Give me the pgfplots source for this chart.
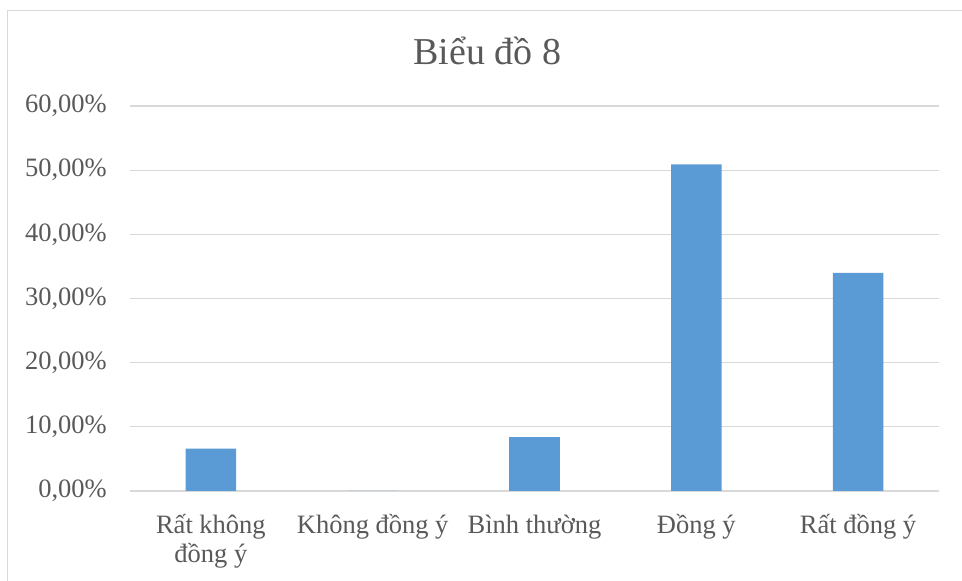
\documentclass[border=0pt]{standalone}
\usepackage{pgfplots}
\pgfplotsset{compat=1.18}
\usepackage{fontspec}
\setmainfont{Liberation Serif}
\definecolor{barblue}{HTML}{5B9BD5}
\definecolor{gridgray}{HTML}{D9D9D9}
\definecolor{txtgray}{HTML}{595959}
% two-line label whose baseline is its first line
\def\firstlabel{\vtop{\halign{\hfil##\hfil\cr Rất không\cr đồng ý\cr}}}
\begin{document}
\begin{tikzpicture}[x=1pt,y=1pt]
\useasboundingbox (0,0) rectangle (962,581);
% chart frame
\draw[gridgray, line width=1.3pt] (7.5,-10) -- (7.5,570.5) -- (975,570.5);
\node[txtgray, font=\fontsize{38}{44}\selectfont, anchor=base, inner sep=0pt]
  at (487.5,516.7) {Biểu đồ 8};
\begin{axis}[
  at={(130pt,90pt)}, anchor=south west,
  scale only axis, width=809pt, height=385pt,
  ybar, bar width=50.6pt,
  xmin=-0.5, xmax=4.5, ymin=0, ymax=60,
  xtick=data,
  xticklabels={\firstlabel,Không đồng ý,Bình thường,Đồng ý,Rất đồng ý},
  ytick={0,10,20,30,40,50,60},
  yticklabel={\pgfmathprintnumber[fixed,fixed zerofill,precision=2,use comma]{\tick}\%},
  /pgf/number format/assume math mode=true,
  axis line style={draw=none},
  major tick length=0pt,
  ymajorgrids, grid style={gridgray, line width=1.3pt},
  ticklabel style={txtgray, font=\fontsize{26.5}{30}\selectfont, inner sep=0pt},
  xticklabel style={anchor=base, yshift=-42pt},
  yticklabel style={anchor=east, xshift=-23pt},
  clip=false,
]
\addplot[fill=barblue, draw=none] coordinates {(0,6.6) (1,0) (2,8.4) (3,50.9) (4,34.0)};
\end{axis}
\end{tikzpicture}
\end{document}
